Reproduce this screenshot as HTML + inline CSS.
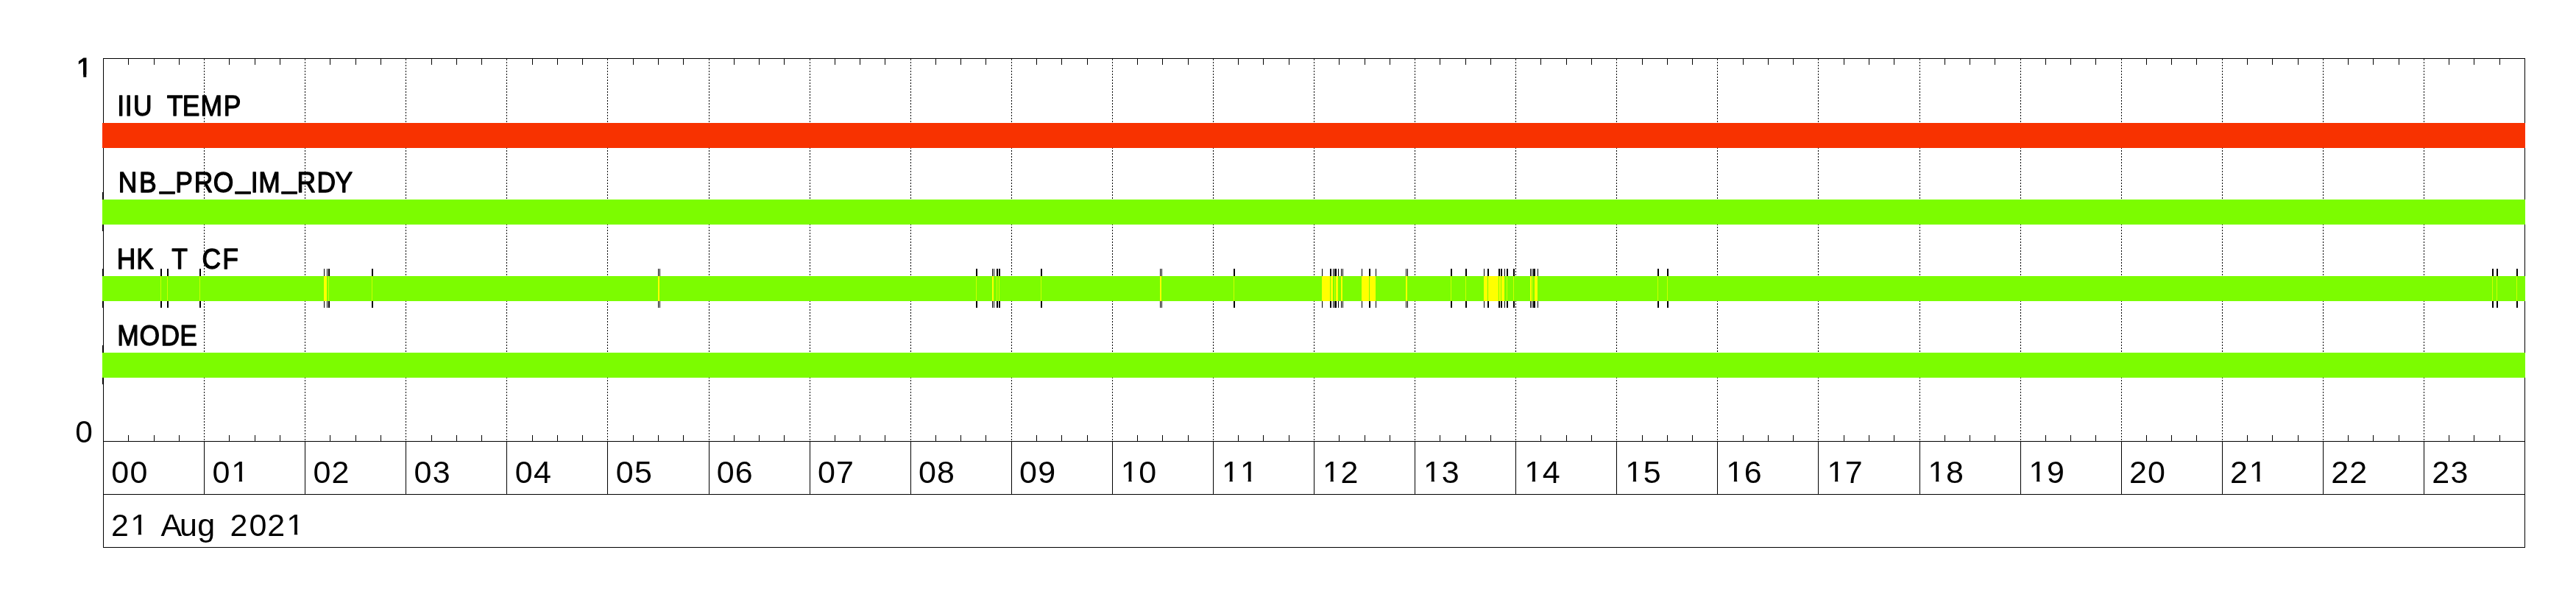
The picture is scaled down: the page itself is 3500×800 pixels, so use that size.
<!DOCTYPE html>
<html lang="en"><head><meta charset="utf-8"><title>HK timeline 21 Aug 2021</title>
<style>html,body{margin:0;padding:0;background:#fff}body{width:3500px;height:800px;overflow:hidden}svg{display:block}text{font-family:"Liberation Sans",sans-serif}</style></head><body>
<svg width="3500" height="800" viewBox="0 0 3500 800">
<rect x="0" y="0" width="3500" height="800" fill="#fff"/>
<g shape-rendering="crispEdges" stroke="#000" stroke-width="1" stroke-dasharray="2 2">
<line x1="277.5" y1="80" x2="277.5" y2="599"/>
<line x1="414.5" y1="80" x2="414.5" y2="599"/>
<line x1="551.5" y1="80" x2="551.5" y2="599"/>
<line x1="688.5" y1="80" x2="688.5" y2="599"/>
<line x1="825.5" y1="80" x2="825.5" y2="599"/>
<line x1="963.5" y1="80" x2="963.5" y2="599"/>
<line x1="1100.5" y1="80" x2="1100.5" y2="599"/>
<line x1="1237.5" y1="80" x2="1237.5" y2="599"/>
<line x1="1374.5" y1="80" x2="1374.5" y2="599"/>
<line x1="1511.5" y1="80" x2="1511.5" y2="599"/>
<line x1="1648.5" y1="80" x2="1648.5" y2="599"/>
<line x1="1785.5" y1="80" x2="1785.5" y2="599"/>
<line x1="1922.5" y1="80" x2="1922.5" y2="599"/>
<line x1="2059.5" y1="80" x2="2059.5" y2="599"/>
<line x1="2196.5" y1="80" x2="2196.5" y2="599"/>
<line x1="2333.5" y1="80" x2="2333.5" y2="599"/>
<line x1="2470.5" y1="80" x2="2470.5" y2="599"/>
<line x1="2608.5" y1="80" x2="2608.5" y2="599"/>
<line x1="2745.5" y1="80" x2="2745.5" y2="599"/>
<line x1="2882.5" y1="80" x2="2882.5" y2="599"/>
<line x1="3019.5" y1="80" x2="3019.5" y2="599"/>
<line x1="3156.5" y1="80" x2="3156.5" y2="599"/>
<line x1="3293.5" y1="80" x2="3293.5" y2="599"/>
</g>
<g shape-rendering="crispEdges" fill="#000">
<rect x="140" y="79" width="3291" height="1"/>
<rect x="140" y="599" width="3291" height="1"/>
<rect x="140" y="79" width="1" height="665"/>
<rect x="3430" y="79" width="1" height="665"/>
<rect x="140" y="671" width="3291" height="1"/>
<rect x="140" y="743" width="3291" height="1"/>
<rect x="277" y="599" width="1" height="72"/>
<rect x="414" y="599" width="1" height="72"/>
<rect x="551" y="599" width="1" height="72"/>
<rect x="688" y="599" width="1" height="72"/>
<rect x="825" y="599" width="1" height="72"/>
<rect x="963" y="599" width="1" height="72"/>
<rect x="1100" y="599" width="1" height="72"/>
<rect x="1237" y="599" width="1" height="72"/>
<rect x="1374" y="599" width="1" height="72"/>
<rect x="1511" y="599" width="1" height="72"/>
<rect x="1648" y="599" width="1" height="72"/>
<rect x="1785" y="599" width="1" height="72"/>
<rect x="1922" y="599" width="1" height="72"/>
<rect x="2059" y="599" width="1" height="72"/>
<rect x="2196" y="599" width="1" height="72"/>
<rect x="2333" y="599" width="1" height="72"/>
<rect x="2470" y="599" width="1" height="72"/>
<rect x="2608" y="599" width="1" height="72"/>
<rect x="2745" y="599" width="1" height="72"/>
<rect x="2882" y="599" width="1" height="72"/>
<rect x="3019" y="599" width="1" height="72"/>
<rect x="3156" y="599" width="1" height="72"/>
<rect x="3293" y="599" width="1" height="72"/>
<rect x="174" y="80" width="1" height="8"/>
<rect x="174" y="591" width="1" height="8"/>
<rect x="209" y="80" width="1" height="8"/>
<rect x="209" y="591" width="1" height="8"/>
<rect x="243" y="80" width="1" height="8"/>
<rect x="243" y="591" width="1" height="8"/>
<rect x="311" y="80" width="1" height="8"/>
<rect x="311" y="591" width="1" height="8"/>
<rect x="346" y="80" width="1" height="8"/>
<rect x="346" y="591" width="1" height="8"/>
<rect x="380" y="80" width="1" height="8"/>
<rect x="380" y="591" width="1" height="8"/>
<rect x="448" y="80" width="1" height="8"/>
<rect x="448" y="591" width="1" height="8"/>
<rect x="483" y="80" width="1" height="8"/>
<rect x="483" y="591" width="1" height="8"/>
<rect x="517" y="80" width="1" height="8"/>
<rect x="517" y="591" width="1" height="8"/>
<rect x="586" y="80" width="1" height="8"/>
<rect x="586" y="591" width="1" height="8"/>
<rect x="620" y="80" width="1" height="8"/>
<rect x="620" y="591" width="1" height="8"/>
<rect x="654" y="80" width="1" height="8"/>
<rect x="654" y="591" width="1" height="8"/>
<rect x="723" y="80" width="1" height="8"/>
<rect x="723" y="591" width="1" height="8"/>
<rect x="757" y="80" width="1" height="8"/>
<rect x="757" y="591" width="1" height="8"/>
<rect x="791" y="80" width="1" height="8"/>
<rect x="791" y="591" width="1" height="8"/>
<rect x="860" y="80" width="1" height="8"/>
<rect x="860" y="591" width="1" height="8"/>
<rect x="894" y="80" width="1" height="8"/>
<rect x="894" y="591" width="1" height="8"/>
<rect x="928" y="80" width="1" height="8"/>
<rect x="928" y="591" width="1" height="8"/>
<rect x="997" y="80" width="1" height="8"/>
<rect x="997" y="591" width="1" height="8"/>
<rect x="1031" y="80" width="1" height="8"/>
<rect x="1031" y="591" width="1" height="8"/>
<rect x="1065" y="80" width="1" height="8"/>
<rect x="1065" y="591" width="1" height="8"/>
<rect x="1134" y="80" width="1" height="8"/>
<rect x="1134" y="591" width="1" height="8"/>
<rect x="1168" y="80" width="1" height="8"/>
<rect x="1168" y="591" width="1" height="8"/>
<rect x="1202" y="80" width="1" height="8"/>
<rect x="1202" y="591" width="1" height="8"/>
<rect x="1271" y="80" width="1" height="8"/>
<rect x="1271" y="591" width="1" height="8"/>
<rect x="1305" y="80" width="1" height="8"/>
<rect x="1305" y="591" width="1" height="8"/>
<rect x="1339" y="80" width="1" height="8"/>
<rect x="1339" y="591" width="1" height="8"/>
<rect x="1408" y="80" width="1" height="8"/>
<rect x="1408" y="591" width="1" height="8"/>
<rect x="1442" y="80" width="1" height="8"/>
<rect x="1442" y="591" width="1" height="8"/>
<rect x="1477" y="80" width="1" height="8"/>
<rect x="1477" y="591" width="1" height="8"/>
<rect x="1545" y="80" width="1" height="8"/>
<rect x="1545" y="591" width="1" height="8"/>
<rect x="1579" y="80" width="1" height="8"/>
<rect x="1579" y="591" width="1" height="8"/>
<rect x="1614" y="80" width="1" height="8"/>
<rect x="1614" y="591" width="1" height="8"/>
<rect x="1682" y="80" width="1" height="8"/>
<rect x="1682" y="591" width="1" height="8"/>
<rect x="1716" y="80" width="1" height="8"/>
<rect x="1716" y="591" width="1" height="8"/>
<rect x="1751" y="80" width="1" height="8"/>
<rect x="1751" y="591" width="1" height="8"/>
<rect x="1819" y="80" width="1" height="8"/>
<rect x="1819" y="591" width="1" height="8"/>
<rect x="1854" y="80" width="1" height="8"/>
<rect x="1854" y="591" width="1" height="8"/>
<rect x="1888" y="80" width="1" height="8"/>
<rect x="1888" y="591" width="1" height="8"/>
<rect x="1956" y="80" width="1" height="8"/>
<rect x="1956" y="591" width="1" height="8"/>
<rect x="1991" y="80" width="1" height="8"/>
<rect x="1991" y="591" width="1" height="8"/>
<rect x="2025" y="80" width="1" height="8"/>
<rect x="2025" y="591" width="1" height="8"/>
<rect x="2093" y="80" width="1" height="8"/>
<rect x="2093" y="591" width="1" height="8"/>
<rect x="2128" y="80" width="1" height="8"/>
<rect x="2128" y="591" width="1" height="8"/>
<rect x="2162" y="80" width="1" height="8"/>
<rect x="2162" y="591" width="1" height="8"/>
<rect x="2231" y="80" width="1" height="8"/>
<rect x="2231" y="591" width="1" height="8"/>
<rect x="2265" y="80" width="1" height="8"/>
<rect x="2265" y="591" width="1" height="8"/>
<rect x="2299" y="80" width="1" height="8"/>
<rect x="2299" y="591" width="1" height="8"/>
<rect x="2368" y="80" width="1" height="8"/>
<rect x="2368" y="591" width="1" height="8"/>
<rect x="2402" y="80" width="1" height="8"/>
<rect x="2402" y="591" width="1" height="8"/>
<rect x="2436" y="80" width="1" height="8"/>
<rect x="2436" y="591" width="1" height="8"/>
<rect x="2505" y="80" width="1" height="8"/>
<rect x="2505" y="591" width="1" height="8"/>
<rect x="2539" y="80" width="1" height="8"/>
<rect x="2539" y="591" width="1" height="8"/>
<rect x="2573" y="80" width="1" height="8"/>
<rect x="2573" y="591" width="1" height="8"/>
<rect x="2642" y="80" width="1" height="8"/>
<rect x="2642" y="591" width="1" height="8"/>
<rect x="2676" y="80" width="1" height="8"/>
<rect x="2676" y="591" width="1" height="8"/>
<rect x="2710" y="80" width="1" height="8"/>
<rect x="2710" y="591" width="1" height="8"/>
<rect x="2779" y="80" width="1" height="8"/>
<rect x="2779" y="591" width="1" height="8"/>
<rect x="2813" y="80" width="1" height="8"/>
<rect x="2813" y="591" width="1" height="8"/>
<rect x="2847" y="80" width="1" height="8"/>
<rect x="2847" y="591" width="1" height="8"/>
<rect x="2916" y="80" width="1" height="8"/>
<rect x="2916" y="591" width="1" height="8"/>
<rect x="2950" y="80" width="1" height="8"/>
<rect x="2950" y="591" width="1" height="8"/>
<rect x="2984" y="80" width="1" height="8"/>
<rect x="2984" y="591" width="1" height="8"/>
<rect x="3053" y="80" width="1" height="8"/>
<rect x="3053" y="591" width="1" height="8"/>
<rect x="3087" y="80" width="1" height="8"/>
<rect x="3087" y="591" width="1" height="8"/>
<rect x="3122" y="80" width="1" height="8"/>
<rect x="3122" y="591" width="1" height="8"/>
<rect x="3190" y="80" width="1" height="8"/>
<rect x="3190" y="591" width="1" height="8"/>
<rect x="3224" y="80" width="1" height="8"/>
<rect x="3224" y="591" width="1" height="8"/>
<rect x="3259" y="80" width="1" height="8"/>
<rect x="3259" y="591" width="1" height="8"/>
<rect x="3327" y="80" width="1" height="8"/>
<rect x="3327" y="591" width="1" height="8"/>
<rect x="3361" y="80" width="1" height="8"/>
<rect x="3361" y="591" width="1" height="8"/>
<rect x="3396" y="80" width="1" height="8"/>
<rect x="3396" y="591" width="1" height="8"/>
</g>
<g shape-rendering="crispEdges">
<g fill="#000">
<rect x="139" y="261" width="1" height="53"/>
<rect x="139" y="365" width="1" height="53"/>
<rect x="139" y="469" width="1" height="53"/>
<rect x="218" y="365" width="1" height="53"/>
<rect x="219" y="365" width="1" height="53"/>
<rect x="227" y="365" width="1" height="53"/>
<rect x="228" y="365" width="1" height="53"/>
<rect x="271" y="365" width="1" height="53"/>
<rect x="272" y="365" width="1" height="53"/>
<rect x="440" y="365" width="1" height="53"/>
<rect x="444" y="365" width="1" height="53"/>
<rect x="446" y="365" width="1" height="53"/>
<rect x="447" y="365" width="1" height="53"/>
<rect x="505" y="365" width="1" height="53"/>
<rect x="506" y="365" width="1" height="53"/>
<rect x="894" y="365" width="1" height="53"/>
<rect x="896" y="365" width="1" height="53"/>
<rect x="1326" y="365" width="1" height="53"/>
<rect x="1327" y="365" width="1" height="53"/>
<rect x="1348" y="365" width="1" height="53"/>
<rect x="1350" y="365" width="1" height="53"/>
<rect x="1354" y="365" width="1" height="53"/>
<rect x="1355" y="365" width="1" height="53"/>
<rect x="1357" y="365" width="1" height="53"/>
<rect x="1358" y="365" width="1" height="53"/>
<rect x="1414" y="365" width="1" height="53"/>
<rect x="1415" y="365" width="1" height="53"/>
<rect x="1576" y="365" width="1" height="53"/>
<rect x="1578" y="365" width="1" height="53"/>
<rect x="1676" y="365" width="1" height="53"/>
<rect x="1677" y="365" width="1" height="53"/>
<rect x="1796" y="365" width="1" height="53"/>
<rect x="1807" y="365" width="1" height="53"/>
<rect x="1808" y="365" width="1" height="53"/>
<rect x="1811" y="365" width="1" height="53"/>
<rect x="1813" y="365" width="1" height="53"/>
<rect x="1814" y="365" width="1" height="53"/>
<rect x="1815" y="365" width="1" height="53"/>
<rect x="1818" y="365" width="1" height="53"/>
<rect x="1822" y="365" width="1" height="53"/>
<rect x="1824" y="365" width="1" height="53"/>
<rect x="1850" y="365" width="1" height="53"/>
<rect x="1860" y="365" width="1" height="53"/>
<rect x="1861" y="365" width="1" height="53"/>
<rect x="1869" y="365" width="1" height="53"/>
<rect x="1910" y="365" width="1" height="53"/>
<rect x="1912" y="365" width="1" height="53"/>
<rect x="1971" y="365" width="1" height="53"/>
<rect x="1972" y="365" width="1" height="53"/>
<rect x="1991" y="365" width="1" height="53"/>
<rect x="1992" y="365" width="1" height="53"/>
<rect x="2016" y="365" width="1" height="53"/>
<rect x="2021" y="365" width="1" height="53"/>
<rect x="2022" y="365" width="1" height="53"/>
<rect x="2036" y="365" width="1" height="53"/>
<rect x="2037" y="365" width="1" height="53"/>
<rect x="2039" y="365" width="1" height="53"/>
<rect x="2040" y="365" width="1" height="53"/>
<rect x="2044" y="365" width="1" height="53"/>
<rect x="2047" y="365" width="1" height="53"/>
<rect x="2048" y="365" width="1" height="53"/>
<rect x="2056" y="365" width="1" height="53"/>
<rect x="2057" y="365" width="1" height="53"/>
<rect x="2079" y="365" width="1" height="53"/>
<rect x="2081" y="365" width="1" height="53"/>
<rect x="2083" y="365" width="1" height="53"/>
<rect x="2084" y="365" width="1" height="53"/>
<rect x="2085" y="365" width="1" height="53"/>
<rect x="2089" y="365" width="1" height="53"/>
<rect x="2252" y="365" width="1" height="53"/>
<rect x="2253" y="365" width="1" height="53"/>
<rect x="2265" y="365" width="1" height="53"/>
<rect x="2266" y="365" width="1" height="53"/>
<rect x="3386" y="365" width="1" height="53"/>
<rect x="3387" y="365" width="1" height="53"/>
<rect x="3392" y="365" width="1" height="53"/>
<rect x="3393" y="365" width="1" height="53"/>
<rect x="3419" y="365" width="1" height="53"/>
<rect x="3420" y="365" width="1" height="53"/>
</g>
<rect x="139" y="167" width="3292" height="34" fill="#F83200"/>
<rect x="139" y="271" width="3292" height="34" fill="#7CFC00"/>
<rect x="139" y="375" width="3292" height="34" fill="#7CFC00"/>
<rect x="139" y="479" width="3292" height="34" fill="#7CFC00"/>
<g fill="#FFFF00">
<rect x="218" y="375" width="1" height="34" fill="#CDFF00"/>
<rect x="227" y="375" width="1" height="34" fill="#CDFF00"/>
<rect x="271" y="375" width="1" height="34" fill="#CDFF00"/>
<rect x="440" y="375" width="4" height="34"/>
<rect x="446" y="375" width="1" height="34" fill="#CDFF00"/>
<rect x="505" y="375" width="1" height="34" fill="#CDFF00"/>
<rect x="894" y="375" width="2" height="34"/>
<rect x="1326" y="375" width="1" height="34" fill="#CDFF00"/>
<rect x="1348" y="375" width="2" height="34"/>
<rect x="1354" y="375" width="1" height="34" fill="#CDFF00"/>
<rect x="1357" y="375" width="1" height="34" fill="#CDFF00"/>
<rect x="1414" y="375" width="1" height="34" fill="#CDFF00"/>
<rect x="1576" y="375" width="2" height="34"/>
<rect x="1676" y="375" width="1" height="34" fill="#CDFF00"/>
<rect x="1796" y="375" width="11" height="34"/>
<rect x="1808" y="375" width="3" height="34"/>
<rect x="1813" y="375" width="1" height="34" fill="#CDFF00"/>
<rect x="1815" y="375" width="3" height="34"/>
<rect x="1822" y="375" width="2" height="34"/>
<rect x="1850" y="375" width="10" height="34"/>
<rect x="1861" y="375" width="8" height="34"/>
<rect x="1910" y="375" width="2" height="34"/>
<rect x="1971" y="375" width="1" height="34" fill="#CDFF00"/>
<rect x="1991" y="375" width="1" height="34" fill="#CDFF00"/>
<rect x="2016" y="375" width="5" height="34"/>
<rect x="2022" y="375" width="14" height="34"/>
<rect x="2037" y="375" width="2" height="34"/>
<rect x="2040" y="375" width="4" height="34"/>
<rect x="2047" y="375" width="1" height="34" fill="#CDFF00"/>
<rect x="2056" y="375" width="1" height="34" fill="#CDFF00"/>
<rect x="2079" y="375" width="2" height="34"/>
<rect x="2082" y="375" width="1" height="34" fill="#CDFF00"/>
<rect x="2085" y="375" width="4" height="34"/>
<rect x="2252" y="375" width="1" height="34" fill="#CDFF00"/>
<rect x="2265" y="375" width="1" height="34" fill="#CDFF00"/>
<rect x="3386" y="375" width="1" height="34" fill="#CDFF00"/>
<rect x="3392" y="375" width="1" height="34" fill="#CDFF00"/>
<rect x="3419" y="375" width="1" height="34" fill="#CDFF00"/>
</g>
</g>
<g opacity="0.999">
<text xml:space="preserve" font-size="39.4" transform="scale(0.9,1)" x="177.03 188.58 201.22 206.22 252.03 275.15 302.76 337.56" y="157.4" fill="#000" stroke="#000" stroke-width="1.3" stroke-linejoin="round">IIU TEMP</text>
<text xml:space="preserve" font-size="39.4" transform="scale(0.9,1)" x="178.65 210.06 241.4 264.73 292.96 322.08 355.95 378.53 390.31 425.73 448.4 478.43 506.14" y="261.4 261.4 255.3 261.4 261.4 261.4 255.3 261.4 261.4 255.3 261.4 261.4 261.4" fill="#000" stroke="#000" stroke-width="1.3" stroke-linejoin="round">NB_PRO_IM_RDY</text>
<text xml:space="preserve" font-size="39.4" transform="scale(0.9,1)" x="176.37 205.85 210.85 259.2 264.2 305.08 335.97" y="365.4" fill="#000" stroke="#000" stroke-width="1.3" stroke-linejoin="round">HK T CF</text>
<text xml:space="preserve" font-size="39.4" transform="scale(0.9,1)" x="177.09 210.69 242.71 271.26" y="469.4" fill="#000" stroke="#000" stroke-width="1.3" stroke-linejoin="round">MODE</text>
<text xml:space="preserve" font-size="43" x="151.34 176.44" y="655.7" fill="#000">00</text>
<text xml:space="preserve" font-size="43" x="288.43 314.17" y="655.7" fill="#000">01</text>
<rect x="315.95" y="650.49" width="8.74" height="7.21" fill="#fff"/>
<rect x="329.08" y="650.49" width="8.7" height="7.21" fill="#fff"/>
<rect x="315.95" y="654.1" width="21.54" height="3.2" fill="#fff"/>
<text xml:space="preserve" font-size="43" x="425.51 450.61" y="655.7" fill="#000">02</text>
<text xml:space="preserve" font-size="43" x="562.59 587.82" y="655.7" fill="#000">03</text>
<text xml:space="preserve" font-size="43" x="699.68 724.91" y="655.7" fill="#000">04</text>
<text xml:space="preserve" font-size="43" x="836.76 861.9" y="655.7" fill="#000">05</text>
<text xml:space="preserve" font-size="43" x="973.84 998.8" y="655.7" fill="#000">06</text>
<text xml:space="preserve" font-size="43" x="1110.93 1136.01" y="655.7" fill="#000">07</text>
<text xml:space="preserve" font-size="43" x="1248.01 1273.11" y="655.7" fill="#000">08</text>
<text xml:space="preserve" font-size="43" x="1385.09 1410.2" y="655.7" fill="#000">09</text>
<text xml:space="preserve" font-size="43" x="1522.82 1547.28" y="655.7" fill="#000">10</text>
<rect x="1524.6" y="650.49" width="8.74" height="7.21" fill="#fff"/>
<rect x="1537.73" y="650.49" width="8.7" height="7.21" fill="#fff"/>
<rect x="1524.6" y="654.1" width="21.54" height="3.2" fill="#fff"/>
<text xml:space="preserve" font-size="43" x="1659.9 1685" y="655.7" fill="#000">11</text>
<rect x="1661.68" y="650.49" width="8.74" height="7.21" fill="#fff"/>
<rect x="1674.82" y="650.49" width="8.7" height="7.21" fill="#fff"/>
<rect x="1661.68" y="654.1" width="21.54" height="3.2" fill="#fff"/>
<rect x="1686.78" y="650.49" width="8.74" height="7.21" fill="#fff"/>
<rect x="1699.92" y="650.49" width="8.7" height="7.21" fill="#fff"/>
<rect x="1686.78" y="654.1" width="21.54" height="3.2" fill="#fff"/>
<text xml:space="preserve" font-size="43" x="1796.99 1821.44" y="655.7" fill="#000">12</text>
<rect x="1798.76" y="650.49" width="8.74" height="7.21" fill="#fff"/>
<rect x="1811.9" y="650.49" width="8.7" height="7.21" fill="#fff"/>
<rect x="1798.76" y="654.1" width="21.54" height="3.2" fill="#fff"/>
<text xml:space="preserve" font-size="43" x="1934.07 1958.65" y="655.7" fill="#000">13</text>
<rect x="1935.85" y="650.49" width="8.74" height="7.21" fill="#fff"/>
<rect x="1948.98" y="650.49" width="8.7" height="7.21" fill="#fff"/>
<rect x="1935.85" y="654.1" width="21.54" height="3.2" fill="#fff"/>
<text xml:space="preserve" font-size="43" x="2071.15 2095.75" y="655.7" fill="#000">14</text>
<rect x="2072.93" y="650.49" width="8.74" height="7.21" fill="#fff"/>
<rect x="2086.07" y="650.49" width="8.7" height="7.21" fill="#fff"/>
<rect x="2072.93" y="654.1" width="21.54" height="3.2" fill="#fff"/>
<text xml:space="preserve" font-size="43" x="2208.24 2232.73" y="655.7" fill="#000">15</text>
<rect x="2210.01" y="650.49" width="8.74" height="7.21" fill="#fff"/>
<rect x="2223.15" y="650.49" width="8.7" height="7.21" fill="#fff"/>
<rect x="2210.01" y="654.1" width="21.54" height="3.2" fill="#fff"/>
<text xml:space="preserve" font-size="43" x="2345.32 2369.63" y="655.7" fill="#000">16</text>
<rect x="2347.1" y="650.49" width="8.74" height="7.21" fill="#fff"/>
<rect x="2360.23" y="650.49" width="8.7" height="7.21" fill="#fff"/>
<rect x="2347.1" y="654.1" width="21.54" height="3.2" fill="#fff"/>
<text xml:space="preserve" font-size="43" x="2482.4 2506.84" y="655.7" fill="#000">17</text>
<rect x="2484.18" y="650.49" width="8.74" height="7.21" fill="#fff"/>
<rect x="2497.32" y="650.49" width="8.7" height="7.21" fill="#fff"/>
<rect x="2484.18" y="654.1" width="21.54" height="3.2" fill="#fff"/>
<text xml:space="preserve" font-size="43" x="2619.49 2643.94" y="655.7" fill="#000">18</text>
<rect x="2621.26" y="650.49" width="8.74" height="7.21" fill="#fff"/>
<rect x="2634.4" y="650.49" width="8.7" height="7.21" fill="#fff"/>
<rect x="2621.26" y="654.1" width="21.54" height="3.2" fill="#fff"/>
<text xml:space="preserve" font-size="43" x="2756.57 2781.04" y="655.7" fill="#000">19</text>
<rect x="2758.35" y="650.49" width="8.74" height="7.21" fill="#fff"/>
<rect x="2771.48" y="650.49" width="8.7" height="7.21" fill="#fff"/>
<rect x="2758.35" y="654.1" width="21.54" height="3.2" fill="#fff"/>
<text xml:space="preserve" font-size="43" x="2893.01 2918.11" y="655.7" fill="#000">20</text>
<text xml:space="preserve" font-size="43" x="3030.09 3055.84" y="655.7" fill="#000">21</text>
<rect x="3057.61" y="650.49" width="8.74" height="7.21" fill="#fff"/>
<rect x="3070.75" y="650.49" width="8.7" height="7.21" fill="#fff"/>
<rect x="3057.61" y="654.1" width="21.54" height="3.2" fill="#fff"/>
<text xml:space="preserve" font-size="43" x="3167.18 3192.28" y="655.7" fill="#000">22</text>
<text xml:space="preserve" font-size="43" x="3304.26 3329.49" y="655.7" fill="#000">23</text>
<text xml:space="preserve" font-size="43" x="150.94 177.19 185.19 218.56 243.97 268.18 276.18 312.54 338.39 363.34 389.29" y="727.85" fill="#000">21 Aug 2021</text>
<rect x="178.96" y="722.64" width="8.74" height="7.21" fill="#fff"/>
<rect x="192.1" y="722.64" width="8.7" height="7.21" fill="#fff"/>
<rect x="178.96" y="726.25" width="21.54" height="3.2" fill="#fff"/>
<rect x="391.06" y="722.64" width="8.74" height="7.21" fill="#fff"/>
<rect x="404.2" y="722.64" width="8.7" height="7.21" fill="#fff"/>
<rect x="391.06" y="726.25" width="21.54" height="3.2" fill="#fff"/>
<text xml:space="preserve" font-size="39.7" x="103.56" y="106.4" fill="#000" stroke="#000" stroke-width="1">1</text>
<rect x="105.09" y="101.43" width="8.16" height="6.97" fill="#fff"/>
<rect x="117.35" y="101.43" width="8.15" height="6.97" fill="#fff"/>
<rect x="105.09" y="104.8" width="20.12" height="3.2" fill="#fff"/>
<text xml:space="preserve" font-size="42.5" x="102.13" y="601.4" fill="#000">0</text>
</g>
</svg>
</body></html>
